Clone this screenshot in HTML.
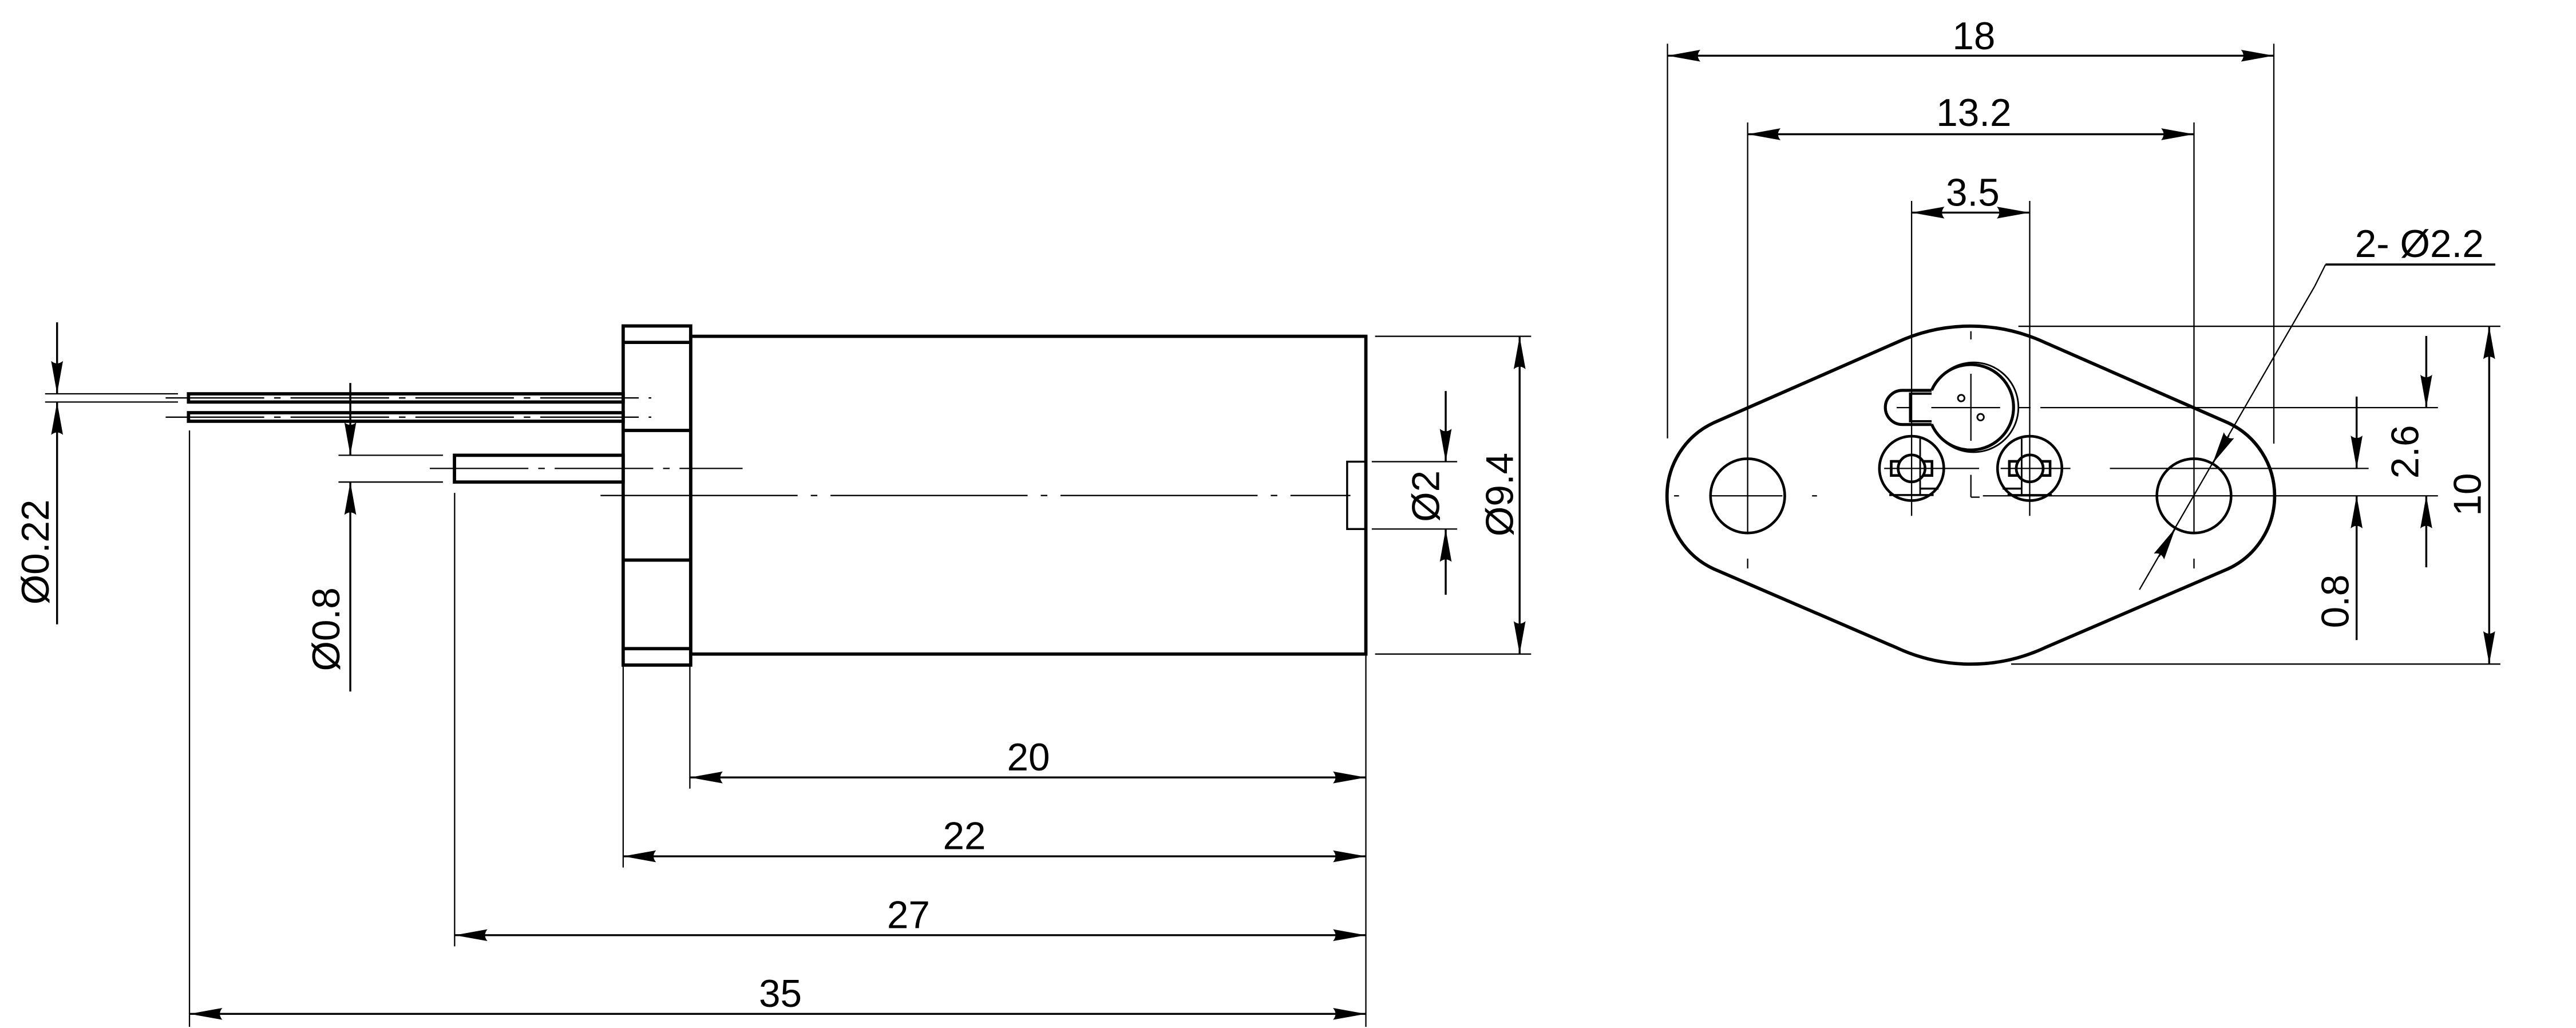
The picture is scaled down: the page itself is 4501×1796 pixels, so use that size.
<!DOCTYPE html>
<html><head><meta charset="utf-8"><style>
html,body{margin:0;padding:0;background:#fff;}
svg{display:block;}
text{font-family:"Liberation Sans","DejaVu Sans",sans-serif;font-size:23.5px;fill:#000;}
</style></head><body>
<svg width="4501" height="1796" viewBox="0 0 1568 625.7" xmlns="http://www.w3.org/2000/svg">
<defs>
<marker id="a" markerUnits="userSpaceOnUse" markerWidth="24" markerHeight="10" refX="0" refY="0" viewBox="-21 -5 22 10" orient="auto-start-reverse">
<path d="M0,0 L-20,-3.6 Q-17,0 -20,3.6 Z" fill="#000"/>
</marker>
</defs>
<rect x="0" y="0" width="1568" height="625.7" fill="#fff"/>
<g fill="none" stroke="#000">
<g stroke-width="2">
<rect x="420.4" y="204.7" width="411" height="193.4"/>
<rect x="379.3" y="198.4" width="41.1" height="206.4"/>
<line x1="379.3" y1="208.4" x2="420.4" y2="208.4"/>
<line x1="379.3" y1="262" x2="420.4" y2="262"/>
<line x1="379.3" y1="340.9" x2="420.4" y2="340.9"/>
<line x1="379.3" y1="394.8" x2="420.4" y2="394.8"/>
<rect x="114.7" y="239.7" width="264.6" height="5"/>
<rect x="114.7" y="251.2" width="264.6" height="5.2"/>
<rect x="276.6" y="277.1" width="102.7" height="16.3"/>
</g>
<rect x="820" y="281" width="11.4" height="41" stroke-width="1.2"/>
<g stroke-width="0.8" stroke-dasharray="60,6,4,6">
<line x1="100.8" y1="242.2" x2="396.4" y2="242.2"/>
<line x1="100.8" y1="253.9" x2="396.4" y2="253.9"/>
<line x1="261.6" y1="285.1" x2="452" y2="285.1"/>
<line x1="365.5" y1="301.6" x2="822" y2="301.6" stroke-dasharray="120,8,4,8"/>
</g>
<g stroke-width="0.8">
<line x1="419.9" y1="404" x2="419.9" y2="480"/>
<line x1="379.3" y1="404.8" x2="379.3" y2="528"/>
<line x1="276.7" y1="300" x2="276.7" y2="576"/>
<line x1="115.3" y1="262" x2="115.3" y2="625"/>
<line x1="831.4" y1="398" x2="831.4" y2="625"/>
<line x1="27.4" y1="239.7" x2="108.3" y2="239.7"/>
<line x1="27.4" y1="244.7" x2="108.3" y2="244.7"/>
<line x1="206" y1="277.1" x2="269.6" y2="277.1"/>
<line x1="206" y1="293.4" x2="269.6" y2="293.4"/>
<line x1="835" y1="281" x2="887" y2="281"/>
<line x1="835" y1="322" x2="887" y2="322"/>
<line x1="837" y1="204.7" x2="932" y2="204.7"/>
<line x1="837" y1="398.1" x2="932" y2="398.1"/>
</g>
<g stroke-width="1.2">
<line x1="419.9" y1="473.2" x2="831.4" y2="473.2" marker-start="url(#a)" marker-end="url(#a)"/>
<line x1="379.3" y1="521.2" x2="831.4" y2="521.2" marker-start="url(#a)" marker-end="url(#a)"/>
<line x1="276.7" y1="569.2" x2="831.4" y2="569.2" marker-start="url(#a)" marker-end="url(#a)"/>
<line x1="115.3" y1="617.1" x2="831.4" y2="617.1" marker-start="url(#a)" marker-end="url(#a)"/>
<line x1="925" y1="204.7" x2="925" y2="398.1" marker-start="url(#a)" marker-end="url(#a)"/>
<line x1="880" y1="238" x2="880" y2="281" marker-end="url(#a)"/>
<line x1="880" y1="362" x2="880" y2="322" marker-end="url(#a)"/>
<line x1="34.7" y1="196.2" x2="34.7" y2="239.7" marker-end="url(#a)"/>
<line x1="34.7" y1="380" x2="34.7" y2="244.7" marker-end="url(#a)"/>
<line x1="213.2" y1="233.1" x2="213.2" y2="277.1" marker-end="url(#a)"/>
<line x1="213.2" y1="420.9" x2="213.2" y2="293.4" marker-end="url(#a)"/>
</g>

<path stroke-width="2" d="M1043.2,257.3 L1154.6,208.4 A107,107 0 0 1 1244.6,208.4 L1356.1,257.3 A49,49 0 0 1 1356.1,346.3 L1244.6,394.3 A107,107 0 0 1 1154.6,394.3 L1043.2,346.3 A49,49 0 0 1 1043.2,257.3 Z"/>
<g stroke-width="1.6">
<circle cx="1063.8" cy="301.8" r="22.6"/>
<circle cx="1335.5" cy="301.8" r="22.6"/>
</g>
<g stroke-width="1.8">
<path d="M1175.8,237.6 A26,26 0 1 1 1175.8,258.2"/>
<path d="M1176.6,236.3 A27.3,27.3 0 1 1 1176.6,259.5" stroke-width="1"/>
<path d="M1175.8,237.6 L1158,237.6 A10.4,10.4 0 0 0 1158,258.4 L1175.8,258.4"/>
<path d="M1175.8,239.6 L1162.7,239.6 L1162.7,256.4 L1175.8,256.4" stroke-width="1.4"/>
<circle cx="1193.8" cy="242.3" r="2" stroke-width="1"/>
<circle cx="1205.6" cy="253.9" r="2" stroke-width="1"/>
</g>
<g stroke-width="1.6">
<circle cx="1163.6" cy="285.1" r="19.6"/>
<rect x="1151.2" y="280.8" width="24.8" height="8.6"/>
<circle cx="1163.6" cy="285.1" r="8.2" fill="#fff"/>
<line x1="1168.8" y1="267" x2="1168.8" y2="301.3" stroke-width="1"/>
<line x1="1168.8" y1="297.4" x2="1180" y2="297.4" stroke-width="1.2"/>
<line x1="1150" y1="301.3" x2="1177" y2="301.3" stroke-width="1.2"/>
<circle cx="1235.5" cy="285.1" r="19.6"/>
<rect x="1223.1" y="280.8" width="24.8" height="8.6"/>
<circle cx="1235.5" cy="285.1" r="8.2" fill="#fff"/>
<line x1="1230.6" y1="267" x2="1230.6" y2="301.3" stroke-width="1"/>
<line x1="1219" y1="297.4" x2="1230.6" y2="297.4" stroke-width="1.2"/>
<line x1="1222" y1="301.3" x2="1249" y2="301.3" stroke-width="1.2"/>
</g>
<g stroke-width="0.8">
<line x1="1015" y1="26.6" x2="1015" y2="266.8"/>
<line x1="1384.1" y1="26.6" x2="1384.1" y2="270"/>
<line x1="1063.8" y1="74.5" x2="1063.8" y2="324.3"/>
<line x1="1063.8" y1="340" x2="1063.8" y2="346"/>
<line x1="1335.5" y1="74.5" x2="1335.5" y2="324.3"/>
<line x1="1335.5" y1="340" x2="1335.5" y2="346"/>
<line x1="1163.6" y1="122.3" x2="1163.6" y2="314"/>
<line x1="1235.5" y1="122.3" x2="1235.5" y2="314"/>
<line x1="1199.7" y1="201.6" x2="1199.7" y2="206.6"/>
<line x1="1199.7" y1="227.5" x2="1199.7" y2="268.3"/>
<line x1="1199.7" y1="289" x2="1199.7" y2="302.6"/>
<line x1="1199.7" y1="302.6" x2="1205" y2="302.6"/>
<line x1="1228.6" y1="198.6" x2="1522" y2="198.6"/>
<line x1="1224.2" y1="404.2" x2="1522" y2="404.2"/>
<line x1="1154.5" y1="248.1" x2="1162" y2="248.1"/>
<line x1="1175.6" y1="248.1" x2="1217.5" y2="248.1"/>
<line x1="1229" y1="248.1" x2="1236" y2="248.1"/>
<line x1="1242" y1="248.1" x2="1484" y2="248.1"/>
<line x1="1146.9" y1="285.1" x2="1204.7" y2="285.1"/>
<line x1="1217.8" y1="285.1" x2="1260.3" y2="285.1"/>
<line x1="1284.3" y1="285.1" x2="1441.8" y2="285.1"/>
<line x1="1019" y1="301.8" x2="1022" y2="301.8"/>
<line x1="1042" y1="301.8" x2="1085" y2="301.8"/>
<line x1="1103" y1="301.8" x2="1106" y2="301.8"/>
<line x1="1207" y1="301.8" x2="1484" y2="301.8"/>
<line x1="1409" y1="174.2" x2="1302.3" y2="358.9"/>
<line x1="1415.6" y1="161" x2="1409" y2="174.2"/>
<line x1="1415.6" y1="161" x2="1518.9" y2="161" stroke-width="1.3"/>
</g>
<g stroke-width="1">
<line x1="1356.8" y1="264.9" x2="1346.8" y2="282.2" marker-end="url(#a)"/>
<line x1="1314.2" y1="338.7" x2="1324.2" y2="321.4" marker-end="url(#a)"/>
</g>
<g stroke-width="1.2">
<line x1="1015" y1="33.9" x2="1384.1" y2="33.9" marker-start="url(#a)" marker-end="url(#a)"/>
<line x1="1063.8" y1="81.7" x2="1335.5" y2="81.7" marker-start="url(#a)" marker-end="url(#a)"/>
<line x1="1163.6" y1="129.4" x2="1235.5" y2="129.4" marker-start="url(#a)" marker-end="url(#a)"/>
<line x1="1515.2" y1="198.6" x2="1515.2" y2="404.2" marker-start="url(#a)" marker-end="url(#a)"/>
<line x1="1476.9" y1="204.5" x2="1476.9" y2="248.1" marker-end="url(#a)"/>
<line x1="1476.9" y1="345.3" x2="1476.9" y2="301.6" marker-end="url(#a)"/>
<line x1="1434.5" y1="241.4" x2="1434.5" y2="285.1" marker-end="url(#a)"/>
<line x1="1434.5" y1="389.6" x2="1434.5" y2="301.6" marker-end="url(#a)"/>
</g>
</g>

<text x="626" y="468.9" text-anchor="middle">20</text>
<text x="587" y="516.9" text-anchor="middle">22</text>
<text x="553" y="564.9" text-anchor="middle">27</text>
<text x="475" y="612.8" text-anchor="middle">35</text>
<text transform="translate(29.5,336) rotate(-90)" text-anchor="middle">Ø0.22</text>
<text transform="translate(206.5,383) rotate(-90)" text-anchor="middle">Ø0.8</text>
<text transform="translate(876,302) rotate(-90)" text-anchor="middle">Ø2</text>
<text transform="translate(921,301) rotate(-90)" text-anchor="middle">Ø9.4</text>
<text x="1201.5" y="30" text-anchor="middle">18</text>
<text x="1201.5" y="76.7" text-anchor="middle">13.2</text>
<text x="1200.8" y="125.2" text-anchor="middle">3.5</text>
<text x="1433.5" y="156.5">2- Ø2.2</text>
<text transform="translate(1472,275) rotate(-90)" text-anchor="middle">2.6</text>
<text transform="translate(1510,301) rotate(-90)" text-anchor="middle">10</text>
<text transform="translate(1429.5,366) rotate(-90)" text-anchor="middle">0.8</text>
</svg>
</body></html>
